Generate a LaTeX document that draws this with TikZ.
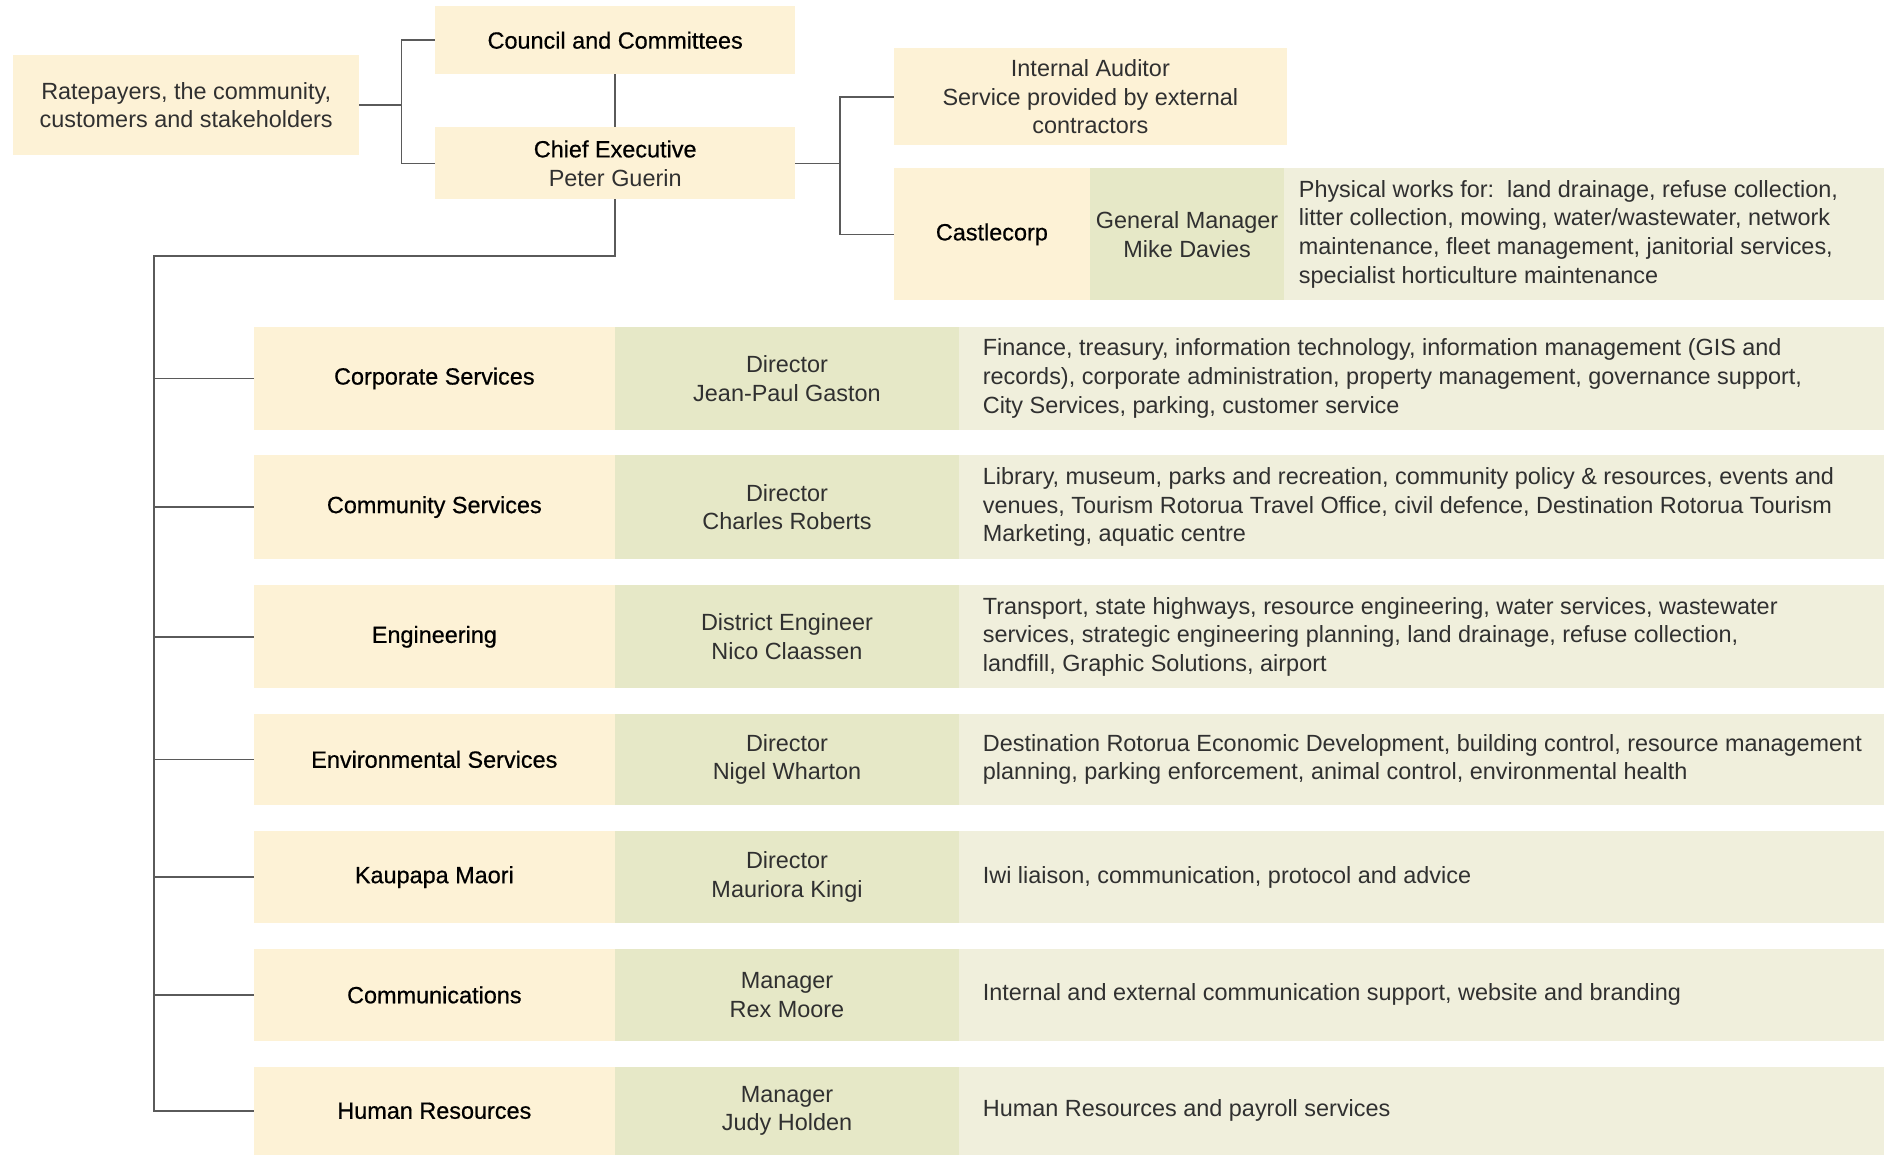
\documentclass[tikz,border=0pt]{standalone}
\usepackage{fontspec}
\setmainfont{Liberation Sans}
\newfontfamily\medfont[FakeBold=0.6]{Liberation Sans}
\usetikzlibrary{calc}
\definecolor{cream}{RGB}{253,242,214}
\definecolor{sage}{RGB}{230,232,199}
\definecolor{pale}{RGB}{240,239,220}
\definecolor{linec}{RGB}{90,90,90}
\definecolor{txt}{RGB}{48,48,48}
\newcommand\bodyfs{\fontsize{19.5pt}{24pt}\selectfont}
\newcommand\deptrow[6]{%
  \node[creambox, namefont, minimum width=301pt, minimum height=#3pt] (#1) at (211,#2) {#4};
  \node[sagebox, minimum width=286pt, minimum height=#3pt] (#1d) at (512,#2) {#5};
  \node[palebox, minimum width=770pt, minimum height=#3pt,
        label={[desctext, xshift=20pt]west:{#6}}] (#1s) at (798,#2) {};
}
\begin{document}
\begin{tikzpicture}[x=1pt,y=-1pt,
  base/.style={inner sep=0pt, outer sep=0pt, align=center, text=txt, font=\bodyfs, anchor=north west},
  creambox/.style={base, fill=cream},
  sagebox/.style={base, fill=sage},
  palebox/.style={base, fill=pale},
  desctext/.style={inner sep=0pt, outer sep=0pt, align=left, anchor=west, text=txt, font=\bodyfs},
  namefont/.style={font=\bodyfs\medfont, text=black},
  conn/.style={draw=linec, line width=1.3pt},
]
\useasboundingbox (0,0) rectangle (1568,961);

% top part
\node[creambox, minimum width=288pt, minimum height=83pt] (rate) at (11,46)
  {Ratepayers, the community,\\customers and stakeholders};
\node[creambox, namefont, minimum width=300pt, minimum height=57pt] (council) at (362,5)
  {Council and Committees};
\node[creambox, minimum width=300pt, minimum height=60pt] (chief) at (362,106)
  {{\medfont\color{black}Chief Executive}\\Peter Guerin};
\node[creambox, minimum width=327pt, minimum height=81pt] (audit) at (744,40)
  {Internal Auditor\\Service provided by external\\contractors};
\node[creambox, namefont, minimum width=163pt, minimum height=110pt] (castle) at (744,140)
  {Castlecorp};
\node[sagebox, minimum width=162pt, minimum height=110pt] (gm) at (907,140)
  {General Manager\\Mike Davies};
\node[palebox, minimum width=499pt, minimum height=110pt,
  label={[desctext, xshift=12pt]west:{Physical works for:\ \ land drainage, refuse collection,\\litter collection, mowing, water/wastewater, network\\maintenance, fleet management, janitorial services,\\specialist horticulture maintenance}}] (cdesc) at (1069,140) {};

% departments
\deptrow{corp}{272}{86}{Corporate Services}{Director\\Jean-Paul Gaston}{Finance, treasury, information technology, information management (GIS and\\records), corporate administration, property management, governance support,\\City Services, parking, customer service}
\deptrow{comm}{379}{86}{Community Services}{Director\\Charles Roberts}{Library, museum, parks and recreation, community policy \& resources, events and\\venues, Tourism Rotorua Travel Office, civil defence, Destination Rotorua Tourism\\Marketing, aquatic centre}
\deptrow{eng}{487}{86}{Engineering}{District Engineer\\Nico Claassen}{Transport, state highways, resource engineering, water services, wastewater\\services, strategic engineering planning, land drainage, refuse collection,\\landfill, Graphic Solutions, airport}
\deptrow{env}{594}{76}{Environmental Services}{Director\\Nigel Wharton}{Destination Rotorua Economic Development, building control, resource management\\planning, parking enforcement, animal control, environmental health}
\deptrow{kau}{692}{76}{Kaupapa Maori}{Director\\Mauriora Kingi}{Iwi liaison, communication, protocol and advice}
\deptrow{cmm}{790}{76}{Communications}{Manager\\Rex Moore}{Internal and external communication support, website and branding}
\deptrow{hr}{888}{73}{Human Resources}{Manager\\Judy Holden}{Human Resources and payroll services}

% connectors
\path (rate.east) ++(35,0) coordinate (j1);
\draw[conn] (rate.east) -- (j1);
\draw[conn] (council.west) -| (j1) |- (chief.west);
\draw[conn] (council.south) -- (chief.north);
\path (chief.east) ++(37,0) coordinate (j2);
\draw[conn] (chief.east) -- (j2);
\draw[conn] (audit.west) -| (j2) |- (castle.west);
\coordinate (spine) at (128,213);
\draw[conn] (chief.south) |- (spine) -- (spine |- hr.west) -- (hr.west);
\foreach \n in {corp,comm,eng,env,kau,cmm}
  \draw[conn] (spine |- \n.west) -- (\n.west);
\end{tikzpicture}
\end{document}
